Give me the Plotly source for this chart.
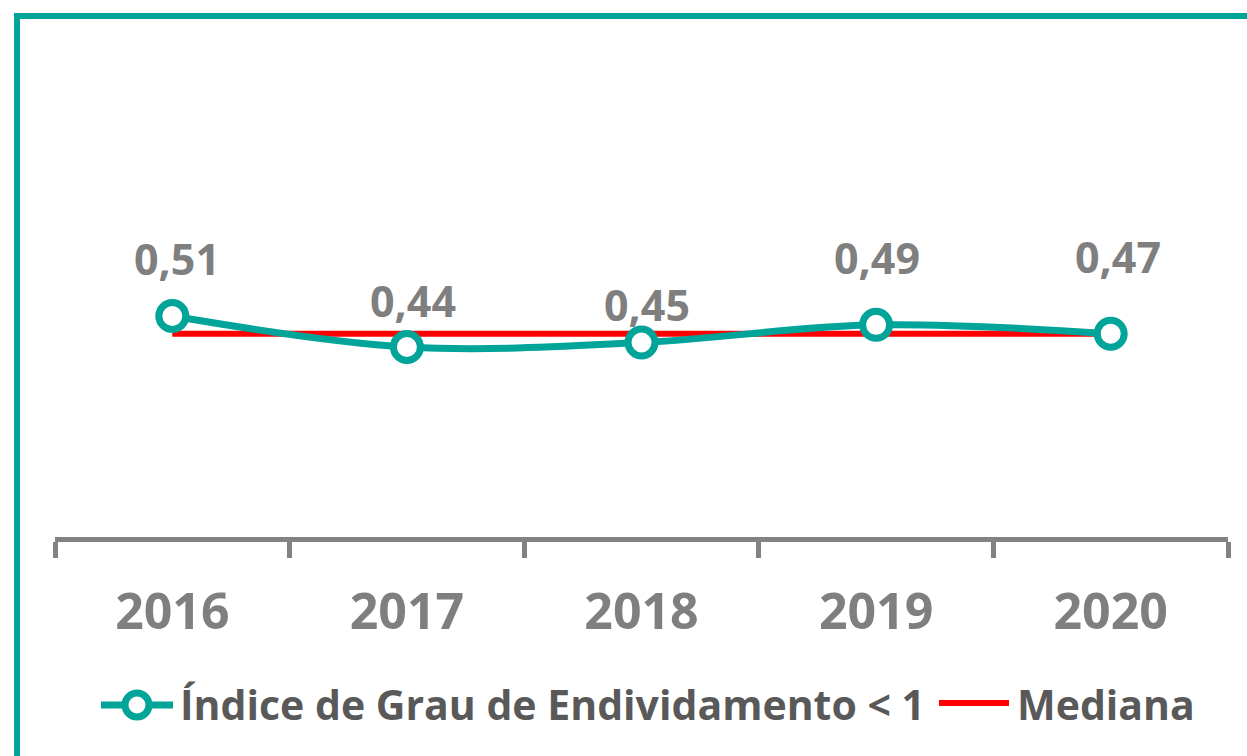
import plotly.graph_objects as go

# Series data
anos = ["2016", "2017", "2018", "2019", "2020"]
indice = [0.51, 0.44, 0.45, 0.49, 0.47]
mediana = [0.47, 0.47, 0.47, 0.47, 0.47]
rotulos = ["0,51", "0,44", "0,45", "0,49", "0,47"]

TEAL = "#00A499"
RED = "#FF0000"
GRAY = "#7F7F7F"
AXIS = "#828282"
DARK = "#595959"
FONT = "Open Sans"

W, H = 1247, 756
ML, MR, MT, MB = 55, 19, 114, 219
PW, PH = W - ML - MR, H - MT - MB


def px_x(px):
    return (px - ML) / PW


def px_y(py):
    return (H - MB - py) / PH


fig = go.Figure()

fig.add_trace(go.Scatter(
    x=anos, y=mediana, mode="lines",
    line=dict(color=RED, width=6), name="Mediana", showlegend=False,
))
fig.add_trace(go.Scatter(
    x=anos, y=indice, mode="lines+markers",
    line=dict(color=TEAL, width=7, shape="spline"),
    marker=dict(size=27, color="white", line=dict(color=TEAL, width=7)),
    name="Índice de Grau de Endividamento < 1", showlegend=False,
))

# value labels above each point (offsets in pixels)
label_dy = [57, 46, 38, 67, 77]
label_dx = [5, 6, 5, 1, 7]
for i, (v, t) in enumerate(zip(indice, rotulos)):
    fig.add_annotation(
        x=i, y=v, text=t, showarrow=False,
        yshift=label_dy[i], xshift=label_dx[i],
        yanchor="middle", xanchor="center",
        font=dict(family=FONT, size=43, color=GRAY, weight="bold"),
    )

# legend drawn by hand
leg_y = px_y(704)
fig.add_shape(type="line", xref="paper", yref="paper",
              x0=px_x(101), x1=px_x(173), y0=px_y(705), y1=px_y(705),
              line=dict(color=TEAL, width=7))
fig.add_shape(type="circle", xref="paper", yref="paper",
              x0=px_x(125), x1=px_x(149), y0=px_y(717), y1=px_y(693),
              fillcolor="white", line=dict(color=TEAL, width=7))
fig.add_annotation(xref="paper", yref="paper", x=px_x(178), y=leg_y,
                   xanchor="left", yanchor="middle", showarrow=False,
                   text="Índice de Grau de Endividamento < 1",
                   font=dict(family=FONT, size=41, color=DARK, weight="bold"))
fig.add_shape(type="line", xref="paper", yref="paper",
              x0=px_x(939), x1=px_x(1009), y0=px_y(703), y1=px_y(703),
              line=dict(color=RED, width=6))
fig.add_annotation(xref="paper", yref="paper", x=px_x(1015), y=leg_y,
                   xanchor="left", yanchor="middle", showarrow=False,
                   text="Mediana",
                   font=dict(family=FONT, size=41, color=DARK, weight="bold"))

# outer frame
fig.add_shape(type="rect", xref="paper", yref="paper",
              x0=px_x(17), x1=px_x(1400), y0=px_y(900), y1=px_y(16),
              line=dict(color=TEAL, width=6))

fig.update_xaxes(
    type="category", range=[-0.5, 4.5],
    showline=True, linecolor=AXIS, linewidth=5,
    ticks="outside", tickson="boundaries", ticklen=16, tickwidth=5,
    tickcolor=AXIS, showgrid=False, zeroline=False,
    tickfont=dict(family=FONT, size=50, color=GRAY, weight="bold"),
    ticklabelstandoff=27,
)
fig.update_yaxes(range=[0.011, 0.966], visible=False,
                 showgrid=False, zeroline=False)

fig.update_layout(
    width=W, height=H,
    margin=dict(l=ML, r=MR, t=MT, b=MB),
    paper_bgcolor="white", plot_bgcolor="white",
    showlegend=False,
)

fig.write_html("out.html")
